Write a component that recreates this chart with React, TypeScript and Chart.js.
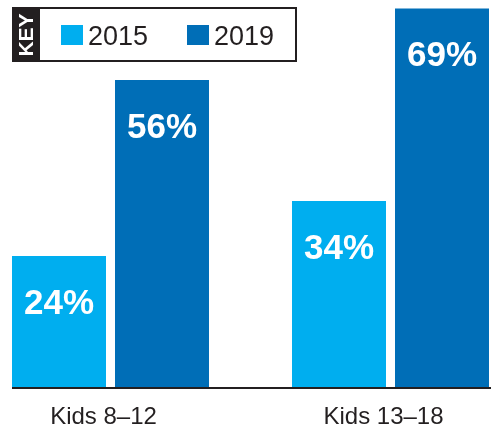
import React, { useEffect, useRef } from "react";
import { Chart, registerables } from "chart.js";

Chart.register(...registerables);

const categories = ["Kids 8\u201312", "Kids 13\u201318"];
const seriesLabels = ["2015", "2019"];
const values2015 = [24, 34];
const values2019 = [56, 69];
const seriesColors = ["#00AEEF", "#006EB7"];
const keyTitle = "KEY";
const INK = "#231F20";

const valueLabelPlugin = {
  id: "valueLabels",
  afterDatasetsDraw(chart: any) {
    const { ctx } = chart;
    ctx.save();
    ctx.fillStyle = "#FFFFFF";
    ctx.font = "bold 35px 'Liberation Sans', Arial, sans-serif";
    ctx.textAlign = "center";
    ctx.textBaseline = "middle";
    chart.data.datasets.forEach((ds: any, di: number) => {
      const meta = chart.getDatasetMeta(di);
      meta.data.forEach((bar: any, i: number) => {
        ctx.fillText(ds.data[i] + "%", bar.x, bar.y + 48);
      });
    });
    // baseline
    const y0 = chart.scales.y.getPixelForValue(0);
    let left = Infinity;
    chart.data.datasets.forEach((_: any, di: number) => {
      chart.getDatasetMeta(di).data.forEach((bar: any) => {
        left = Math.min(left, bar.x - bar.width / 2);
      });
    });
    ctx.strokeStyle = INK;
    ctx.lineWidth = 2;
    ctx.beginPath();
    ctx.moveTo(left, y0);
    ctx.lineTo(chart.width, y0);
    ctx.stroke();
    ctx.restore();
  },
};

const keyPlugin = {
  id: "keyBox",
  afterDraw(chart: any) {
    const { ctx } = chart;
    ctx.save();
    ctx.fillStyle = INK;
    ctx.fillRect(12, 7, 285, 55);
    ctx.fillStyle = "#FFFFFF";
    ctx.fillRect(40, 9, 255, 51);
    // KEY vertical
    ctx.save();
    ctx.translate(26.5, 35);
    ctx.rotate(-Math.PI / 2);
    ctx.fillStyle = "#FFFFFF";
    ctx.font = "bold 21px 'Liberation Sans', Arial, sans-serif";
    ctx.textAlign = "center";
    ctx.textBaseline = "middle";
    ctx.fillText(keyTitle, 0, 1);
    ctx.restore();
    const xs = [61, 187];
    chart.data.datasets.forEach((ds: any, i: number) => {
      ctx.fillStyle = ds.backgroundColor;
      ctx.fillRect(xs[i], 25, 22, 20);
      ctx.fillStyle = INK;
      ctx.font = "27px 'Liberation Sans', Arial, sans-serif";
      ctx.textAlign = "left";
      ctx.textBaseline = "alphabetic";
      ctx.fillText(ds.label, xs[i] + 27, 45);
    });
    ctx.restore();
  },
};

export default function App() {
  const ref = useRef<HTMLCanvasElement | null>(null);
  useEffect(() => {
    if (!ref.current) return;
    const chart = new Chart(ref.current, {
      type: "bar",
      data: {
        labels: categories,
        datasets: [
          { label: seriesLabels[0], data: values2015, backgroundColor: seriesColors[0], clip: false as any },
          { label: seriesLabels[1], data: values2019, backgroundColor: seriesColors[1], clip: false as any },
        ],
      },
      options: {
        responsive: false,
        animation: false,
        layout: { padding: { left: 110.5, right: 100.5, top: 3, bottom: -22 } },
        datasets: { bar: { categoryPercentage: 0.7357, barPercentage: 0.9126 } },
        plugins: { legend: { display: false }, tooltip: { enabled: false } },
        scales: {
          x: {
            offset: false,
            grid: { display: false, drawTicks: false },
            border: { display: false },
            ticks: {
              color: INK,
              padding: 17,
              labelOffset: -7,
              font: { family: "'Liberation Sans', Arial, sans-serif", size: 24, lineHeight: 1 },
            },
          },
          y: { display: false, min: 0, max: 70 },
        },
      },
      plugins: [valueLabelPlugin, keyPlugin],
    });
    return () => chart.destroy();
  }, []);
  return (
    <div style={{ position: "fixed", left: 0, top: 0, width: 491, height: 424, background: "#fff" }}>
      <canvas ref={ref} width={491} height={424} />
    </div>
  );
}
